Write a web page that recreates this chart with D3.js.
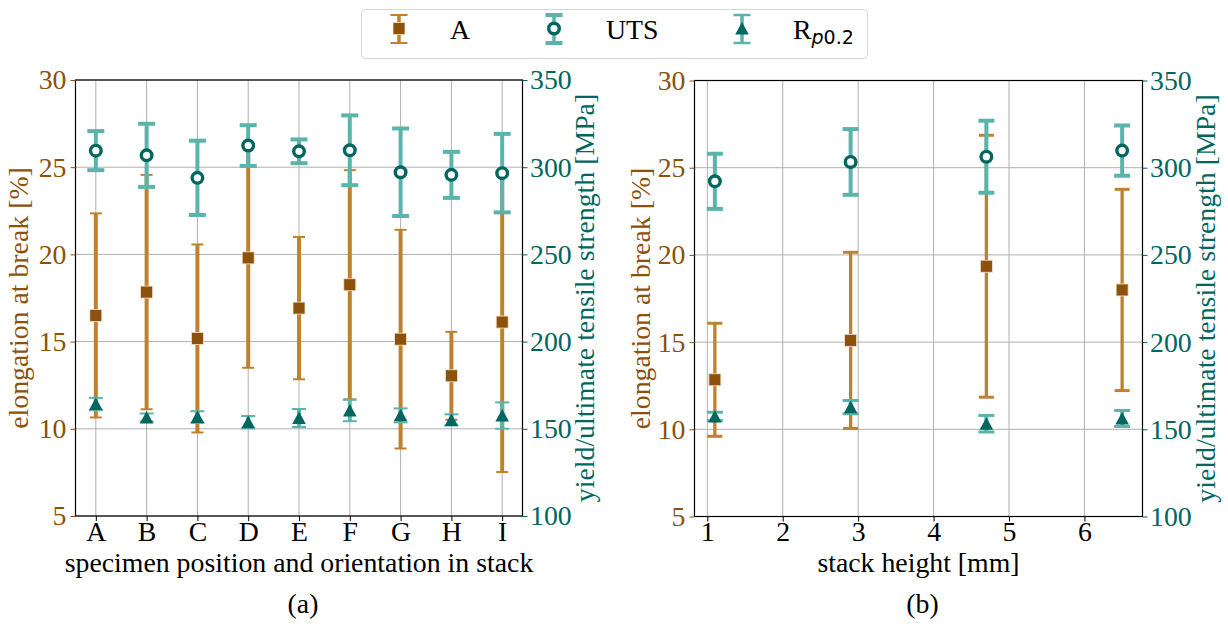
<!DOCTYPE html>
<html>
<head>
<meta charset="utf-8">
<script src="https://cdn.jsdelivr.net/npm/d3@7"></script>
<style>
  html, body { margin: 0; padding: 0; background: #fff; }
  svg { display: block; }
</style>
</head>
<body>
<svg id="fig" width="1228" height="626"></svg>
<script>
// ---- data: (a) specimen position / orientation in stack ----
const positions = ["A", "B", "C", "D", "E", "F", "G", "H", "I"];
const elongMeanPos = [16.5, 17.84, 15.18, 19.8, 16.92, 18.26, 15.14, 13.04, 16.12];
const elongSdPos   = [5.85, 6.72, 5.39, 6.3, 4.08, 6.57, 6.27, 2.52, 8.6];
const utsMeanPos   = [309.5, 306.8, 293.9, 312.4, 309.1, 309.7, 297.1, 295.6, 296.6];
const utsSdPos     = [11.2, 18.1, 21.3, 11.7, 6.8, 20.0, 25.1, 13.2, 22.5];
const rpMeanPos    = [164.2, 156.5, 156.7, 153.8, 156.2, 160.5, 157.7, 155.1, 157.6];
const rpSdPos      = [3.55, 2.3, 3.35, 3.55, 5.15, 6.15, 4.0, 3.2, 7.55];

// ---- data: (b) stack height ----
const heights       = [1.1, 2.9, 4.7, 6.5];
const elongMeanH    = [12.84, 15.1, 19.35, 17.99];
const elongSdH      = [3.24, 5.05, 7.51, 5.77];
const utsMeanH      = [292.2, 303.3, 306.3, 309.8];
const utsSdH        = [15.8, 18.85, 20.65, 14.4];
const rpMeanH       = [157.4, 162.7, 153.2, 156.2];
const rpSdH         = [2.4, 3.8, 4.75, 4.6];

// ---- axis ticks ----
const elongTicks = [5, 10, 15, 20, 25, 30];
const strengthTicks = [100, 150, 200, 250, 300, 350];
const heightTicks = [1, 2, 3, 4, 5, 6];

// ---- colours (BrBG) ----
const BROWN_BAR = "#bf812d", BROWN_MK = "#8c510a";
const TEAL_BAR = "#5ab4ac", TEAL_MK = "#01665e";
const GRID = "#b0b0b0";
const SERIF = '"Liberation Serif", "Times New Roman", serif';
const SANS = '"DejaVu Sans", sans-serif';
const FS = 27.8;

const svg = d3.select("#fig");
svg.append("rect").attr("width", 1228).attr("height", 626).attr("fill", "#fff");

function addText(sel, str, size, fill) {
  return sel.append("text").attr("fill", fill)
    .style("font-family", SERIF).style("font-size", size + "px").text(str);
}

function drawPanel(cfg) {
  const { x0, x1, top, bottom, xDomain, xTickVals, xTickFmt, xs, elong, uts, rp, xlabel, tag,
          leftLabelX, rightLabelX, style } = cfg;
  const g = svg.append("g");
  const x = d3.scaleLinear().domain(xDomain).range([x0, x1]);
  const yL = d3.scaleLinear().domain([5, 30]).range([bottom, top]);
  const yR = d3.scaleLinear().domain([100, 350]).range([bottom, top]);

  // grid
  const grid = g.append("g").attr("stroke", GRID).attr("stroke-width", 1);
  xTickVals.forEach(v => grid.append("line").attr("x1", x(v)).attr("x2", x(v)).attr("y1", top).attr("y2", bottom));
  elongTicks.forEach(v => grid.append("line").attr("x1", x0).attr("x2", x1).attr("y1", yL(v)).attr("y2", yL(v)));

  // error bars with markers
  function errorSeries(vals, sds, yScale, opt) {
    const s = g.append("g");
    vals.forEach((m, i) => {
      const cx = x(xs[i]);
      const hi = yScale(m + sds[i]), lo = yScale(m - sds[i]);
      s.append("line").attr("x1", cx).attr("x2", cx).attr("y1", hi).attr("y2", lo)
        .attr("stroke", opt.bar).attr("stroke-width", opt.barW);
      [hi, lo].forEach(yy => s.append("line")
        .attr("x1", cx - opt.cap / 2).attr("x2", cx + opt.cap / 2).attr("y1", yy).attr("y2", yy)
        .attr("stroke", opt.bar).attr("stroke-width", opt.capW));
    });
    vals.forEach((m, i) => drawMarker(s, opt.marker, x(xs[i]), yScale(m)));
  }

  errorSeries(elong[0], elong[1], yL, { bar: BROWN_BAR, barW: style.bBar, cap: style.bCap, capW: style.bCapW, marker: "square" });
  errorSeries(uts[0], uts[1], yR, { bar: TEAL_BAR, barW: style.tBar, cap: style.tCap, capW: style.tCapW, marker: "circle" });
  errorSeries(rp[0], rp[1], yR, { bar: TEAL_BAR, barW: style.tBar, cap: style.rCap, capW: style.rCapW, marker: "triangle" });

  // spines
  g.append("rect").attr("x", x0).attr("y", top).attr("width", x1 - x0).attr("height", bottom - top)
    .attr("fill", "none").attr("stroke", "#000").attr("stroke-width", 1.2);

  const styleTicks = (ax, col) => {
    ax.select(".domain").remove();
    ax.selectAll(".tick line").attr("stroke", col);
    ax.selectAll(".tick text").attr("fill", col).style("font-size", FS + "px").style("font-family", SERIF);
  };

  // left axis (elongation)
  const axL = g.append("g").attr("transform", `translate(${x0},0)`)
    .call(d3.axisLeft(yL).tickValues(elongTicks).tickSize(5).tickPadding(4));
  styleTicks(axL, BROWN_MK);

  // right axis (strength)
  const axR = g.append("g").attr("transform", `translate(${x1},0)`)
    .call(d3.axisRight(yR).tickValues(strengthTicks).tickSize(5).tickPadding(2.5));
  styleTicks(axR, TEAL_MK);

  // bottom axis
  const axB = g.append("g").attr("transform", `translate(0,${bottom})`)
    .call(d3.axisBottom(x).tickValues(xTickVals).tickFormat(xTickFmt).tickSize(5).tickPadding(0));
  styleTicks(axB, "#000");

  const midY = (top + bottom) / 2;
  addText(g, "elongation at break [%]", FS, BROWN_MK)
    .attr("transform", `translate(${leftLabelX},${midY}) rotate(-90)`).attr("text-anchor", "middle");
  addText(g, "yield/ultimate tensile strength [MPa]", FS, TEAL_MK)
    .attr("transform", `translate(${rightLabelX},${midY}) rotate(-90)`).attr("text-anchor", "middle");
  addText(g, xlabel, FS, "#000").attr("x", (x0 + x1) / 2).attr("y", 572).attr("text-anchor", "middle");
  addText(g, tag, FS, "#000").attr("x", (x0 + x1) / 2 + 4).attr("y", 613).attr("text-anchor", "middle");
}

function drawMarker(sel, type, cx, cy) {
  if (type === "square") {
    sel.append("rect").attr("x", cx - 6).attr("y", cy - 6).attr("width", 12).attr("height", 12)
      .attr("fill", BROWN_MK).attr("stroke", "#f3e3cc").attr("stroke-width", 0.8);
  } else if (type === "circle") {
    sel.append("circle").attr("cx", cx).attr("cy", cy).attr("r", 5.3)
      .attr("fill", "#fff").attr("stroke", TEAL_MK).attr("stroke-width", 3.4);
  } else {
    sel.append("path").attr("d", `M${cx},${cy - 6.5}L${cx + 6.8},${cy + 6}L${cx - 6.8},${cy + 6}Z`)
      .attr("fill", TEAL_MK);
  }
}

drawPanel({
  x0: 75.5, x1: 522.5, top: 80, bottom: 516,
  xDomain: [-0.4, positions.length - 1 + 0.4],
  xTickVals: d3.range(positions.length), xTickFmt: i => positions[i],
  xs: d3.range(positions.length),
  elong: [elongMeanPos, elongSdPos], uts: [utsMeanPos, utsSdPos], rp: [rpMeanPos, rpSdPos],
  xlabel: "specimen position and orientation in stack", tag: "(a)",
  leftLabelX: 28, rightLabelX: 594,
  style: { bBar: 4, bCap: 12, bCapW: 2, tBar: 4, tCap: 17, tCapW: 4, rCap: 14, rCapW: 2 }
});

const hPad = (heights[heights.length - 1] - heights[0]) * 0.05;
drawPanel({
  x0: 694.5, x1: 1142.5, top: 80.5, bottom: 516.5,
  xDomain: [heights[0] - hPad, heights[heights.length - 1] + hPad],
  xTickVals: heightTicks, xTickFmt: d3.format("d"),
  xs: heights,
  elong: [elongMeanH, elongSdH], uts: [utsMeanH, utsSdH], rp: [rpMeanH, rpSdH],
  xlabel: "stack height [mm]", tag: "(b)",
  leftLabelX: 650, rightLabelX: 1215,
  style: { bBar: 3.3, bCap: 15, bCapW: 3, tBar: 4, tCap: 16, tCapW: 4, rCap: 16, rCapW: 3 }
});

// ---- legend ----
const lg = svg.append("g");
lg.append("rect").attr("x", 361.5).attr("y", 9.5).attr("width", 506).attr("height", 49).attr("rx", 4)
  .attr("fill", "#fff").attr("stroke", "#d6d6d6").attr("stroke-width", 1);
const legendItems = [
  { x: 399, bar: BROWN_BAR, capW: 2, marker: "square", label: "A", tx: 450 },
  { x: 554, bar: TEAL_BAR, capW: 4, marker: "circle", label: "UTS", tx: 606 },
  { x: 742, bar: TEAL_BAR, capW: 2.5, marker: "triangle", label: "R", tx: 793, sub: true }
];
legendItems.forEach(it => {
  lg.append("line").attr("x1", it.x).attr("x2", it.x).attr("y1", 15).attr("y2", 43)
    .attr("stroke", it.bar).attr("stroke-width", 3.5);
  [15, 43].forEach(yy => lg.append("line").attr("x1", it.x - 8.5).attr("x2", it.x + 8.5)
    .attr("y1", yy).attr("y2", yy).attr("stroke", it.bar).attr("stroke-width", it.capW));
  drawMarker(lg, it.marker, it.x, 28.5);
  const t = addText(lg, it.label, FS, "#000").attr("x", it.tx).attr("y", 39);
  if (it.sub) {
    t.append("tspan").attr("dy", 5).style("font-family", SANS)
      .style("font-size", "19px").style("font-style", "italic").text("p");
    t.append("tspan").style("font-family", SANS).style("font-size", "19px").text("0.2");
  }
});
</script>
</body>
</html>
